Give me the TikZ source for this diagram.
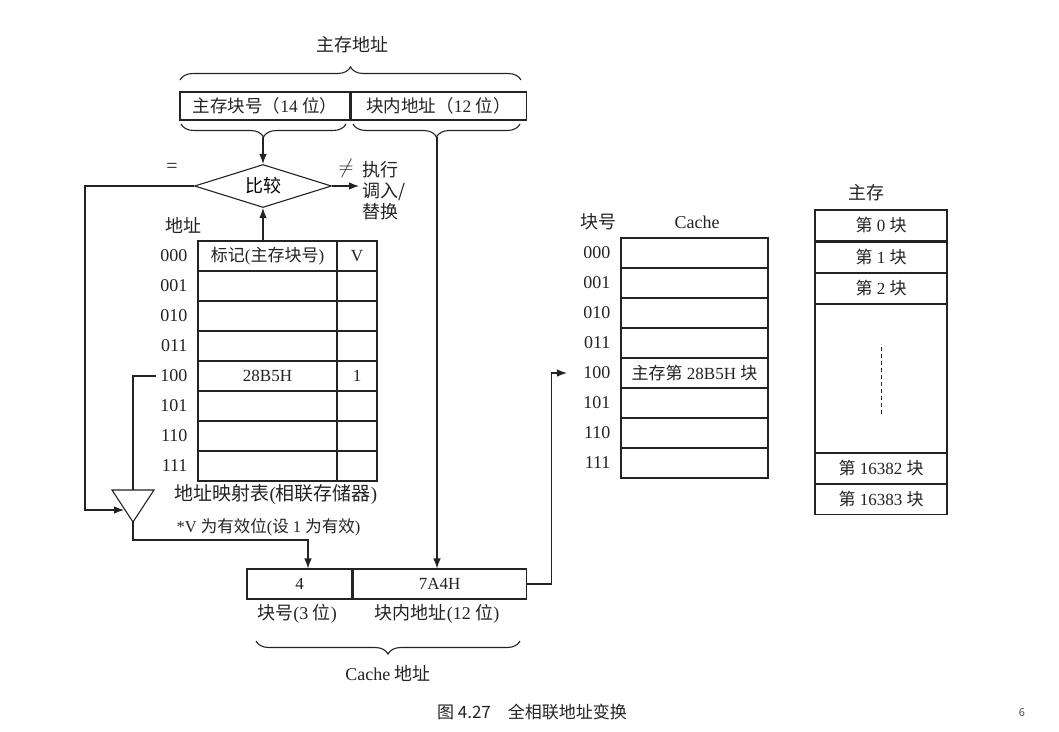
\documentclass[tikz,border=0pt]{standalone}
\usepackage{fontspec}
\setmainfont{Liberation Serif}
\newfontfamily\zhfont{Noto Sans CJK SC}
\newcommand{\zh}[1]{{\zhfont #1}}
\usetikzlibrary{positioning, calc, arrows.meta, shapes.geometric, decorations.pathreplacing}
\definecolor{ink}{RGB}{35,35,35}
\tikzset{
  txt/.style={text=ink,inner sep=1pt,font=\fontsize{18}{21}\selectfont},
  cell/.style={draw=ink,minimum height=30pt,inner sep=0pt,
    font=\fontsize{17}{19}\selectfont,text=ink},
  ctxt/.style={txt,font=\fontsize{17}{19}\selectfont},
  lab/.style={txt,anchor=east},
  arr/.style={-{Latex[length=10pt,width=7.5pt]},draw=ink},
  brc/.style={draw=ink,decorate,decoration={brace,amplitude=13pt}},
  brcd/.style={brc,decoration={brace,mirror,amplitude=13pt}},
  cmpbox/.style={diamond,draw=ink,minimum width=137pt,minimum height=43pt,
    inner sep=0pt,aspect=3.2,font=\fontsize{18}{21}\selectfont},
}

\begin{document}
\begin{tikzpicture}[x=1pt,y=-1pt,line width=1.1pt]
  \useasboundingbox[fill=white] (0,0) rectangle (1059,731);

  % main memory address
  \node[txt] (mtitle) at (352,45) {\zh{主存地址}};
  \draw[brc] (180,80) -- (521,80);
  \node[cell,minimum width=170pt,minimum height=28pt,font=\fontsize{17.5}{20}\selectfont]
    (tagf) at (265,106) {\zh{主存块号（}14 \zh{位）}};
  \node[cell,minimum width=175pt,minimum height=28pt,font=\fontsize{17.5}{20}\selectfont,
    right=0pt of tagf] (offf) {\zh{块内地址（}12 \zh{位）}};
  \draw[brcd] (181,124) -- (346,124);
  \draw[brcd] (353,124) -- (520,124);
  \coordinate (tagb) at (263,137);
  \coordinate (offb) at (437,137);

  % compare
  \node[cmpbox] (cmp) at (263,186) {\zh{比较}};
  \draw[arr] (tagb) -- (cmp.north);
  \node[txt,font=\fontsize{20}{22}\selectfont] (eqs) at (172,168) {=};
  \node[txt,font=\fontsize{20}{22}\selectfont] (neq) at (346,168) {$\neq$};
  \node[txt,anchor=west,align=left,inner sep=3pt] (miss) at (359,191)
    {\zh{执行}\\\zh{调入/}\\\zh{替换}};
  \draw[arr] (cmp.east) -- (cmp.east -| miss.west);

  % address mapping table
  \node[txt] (addr) at (183,225) {\zh{地址}};
  \foreach \b [count=\i from 0] in {000,001,010,011,100,101,110,111} {
    \node[cell,minimum width=139pt] (t\i) at (267.5,{256+30*\i}) {};
    \node[cell,minimum width=40pt] (v\i) at (357,{256+30*\i}) {};
    \node[lab] (r\i) at (189,{256+30*\i}) {\b};
  }
  \node[ctxt] at (t0) {\zh{标记}(\zh{主存块号})};
  \node[ctxt] at (v0) {V};
  \node[ctxt] at (t4) {28B5H};
  \node[ctxt] at (v4) {1};
  \draw[arr] (cmp.south |- t0.north) -- (cmp.south);
  \node[txt,anchor=west,font=\fontsize{19}{22}\selectfont] (mapcap) at (173,495)
    {\zh{地址映射表}(\zh{相联存储器})};
  \node[txt,anchor=west,font=\fontsize{16.5}{19}\selectfont] (vnote) at (175,527)
    {*V \zh{为有效位}(\zh{设} 1 \zh{为有效})};

  % gate
  \draw[ink] (112,490) -- (154,490) -- (133,522) -- cycle;
  \coordinate (trin) at (133,490);
  \coordinate (tris) at (133,522);
  \coordinate (triw) at (124,510);
  \draw[ink] ([xshift=-3pt]r4.west) -| (trin);
  \coordinate (fb) at (85,186);
  \draw[arr] (cmp.west) -- (fb) |- (triw);

  % cache address
  \node[cell,minimum width=105pt] (cblk) at (299.5,584) {4};
  \node[cell,minimum width=173pt,right=0pt of cblk] (coff) {7A4H};
  \coordinate (bend) at (308,540);
  \draw[arr] (tris) |- (bend) -- (bend |- cblk.north);
  \draw[arr] (offb) -- (offb |- coff.north);
  \node[txt] (blab) at (297,614) {\zh{块号}(3 \zh{位})};
  \node[txt] (olab) at (437,614) {\zh{块内地址}(12 \zh{位})};
  \draw[brcd] (256,641) -- (520,641);
  \node[txt] (ctitle) at (388,673) {Cache \zh{地址}};

  % cache
  \node[txt] (knum) at (598,222) {\zh{块号}};
  \node[txt] (ktitle) at (697,222) {Cache};
  \foreach \b [count=\i from 0] in {000,001,010,011,100,101,110,111} {
    \node[cell,minimum width=147pt] (k\i) at (694.5,{253+30*\i}) {};
    \node[lab] (c\i) at (612,{253+30*\i}) {\b};
  }
  \node[ctxt] at (k4) {\zh{主存第} 28B5H \zh{块}};
  \draw[arr] (coff.east) -- ++(25,0) |- ([xshift=-15pt]c4.west);

  % main memory
  \node[txt] (mmtitle) at (866,193) {\zh{主存}};
  \node[cell,minimum width=132pt,minimum height=31pt] (m0) at (881,225.5) {\zh{第} 0 \zh{块}};
  \node[cell,minimum width=132pt,below=0pt of m0] (m1) {\zh{第} 1 \zh{块}};
  \node[cell,minimum width=132pt,below=0pt of m1] (m2) {\zh{第} 2 \zh{块}};
  \node[cell,minimum width=132pt,minimum height=148pt,below=0pt of m2] (mgap) {};
  \node[cell,minimum width=132pt,below=0pt of mgap] (m3) {\zh{第} 16382 \zh{块}};
  \node[cell,minimum width=132pt,below=0pt of m3] (m4) {\zh{第} 16383 \zh{块}};
  \draw[ink,line width=0.8pt,dash pattern=on 4pt off 3pt]
    ([yshift=-36pt]mgap.center) -- ([yshift=34pt]mgap.center);

  % caption
  \node[txt,font=\fontsize{17}{19}\selectfont] (cap) at (532,712)
    {\zh{图 4.27\quad 全相联地址变换}};
  \node[txt,font=\fontsize{11}{13}\selectfont\zhfont,text=ink!80] (pg) at (1022,713) {6};
\end{tikzpicture}
\end{document}
